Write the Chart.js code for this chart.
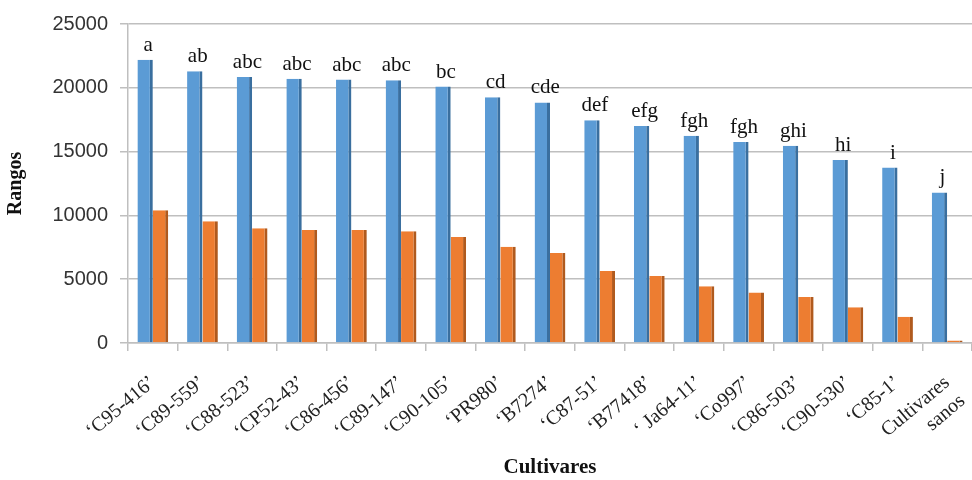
<!DOCTYPE html>
<html>
<head>
<meta charset="utf-8">
<script src="https://cdn.jsdelivr.net/npm/chart.js@4.4.1/dist/chart.umd.min.js"></script>
<style>
  html, body { margin: 0; padding: 0; background: #fff; }
  #wrap { width: 972px; height: 480px; }
</style>
</head>
<body>
<div id="wrap"><canvas id="chart"></canvas></div>
<script>
// cultivares (eje x)
const cultivares = [
  '‘C95-416’', '‘C89-559’', '‘C88-523’', '‘CP52-43’', '‘C86-456’', '‘C89-147’',
  '‘C90-105’', '‘PR980’', '‘B7274’', '‘C87-51’', '‘B77418’', '‘ Ja64-11’',
  '‘Co997’', '‘C86-503’', '‘C90-530’', '‘C85-1’', ['Cultivares', 'sanos']
];

// rangos, serie azul y serie naranja
const rangosAzul = [22200, 21300, 20850, 20700, 20650, 20600, 20100, 19250, 18850,
  17450, 17000, 16250, 15750, 15450, 14350, 13750, 11800];
const rangosNaranja = [10400, 9550, 9000, 8850, 8850, 8750, 8300, 7550, 7050,
  5650, 5250, 4450, 3950, 3600, 2800, 2050, 200];

// letras de significacion sobre las barras
const letras = ['a', 'ab', 'abc', 'abc', 'abc', 'abc', 'bc', 'cd', 'cde', 'def',
  'efg', 'fgh', 'fgh', 'ghi', 'hi', 'i', 'j'];

const yTicks = [0, 5000, 10000, 15000, 20000, 25000];

const serif = '"Liberation Serif", "DejaVu Serif", serif';
const sans = '"Liberation Sans", Arial, sans-serif';

// dibuja las letras encima de las barras azules
const letrasPlugin = {
  id: 'letras',
  afterDatasetsDraw(chart) {
    const { ctx } = chart;
    const meta = chart.getDatasetMeta(0);
    ctx.save();
    ctx.font = '21px ' + serif;
    ctx.fillStyle = '#111';
    ctx.textAlign = 'center';
    ctx.textBaseline = 'bottom';
    meta.data.forEach((bar, i) => {
      ctx.fillText(letras[i], bar.x + 3, bar.y - 4);
    });
    ctx.restore();
  }
};

new Chart(document.getElementById('chart'), {
  type: 'bar',
  data: {
    labels: cultivares,
    datasets: [{
      data: rangosAzul,
      backgroundColor: '#5b9bd5',
      borderColor: '#3a6f9f',
      borderWidth: { top: 0, right: 3, bottom: 0, left: 0 },
      borderSkipped: false,
      categoryPercentage: 0.62,
      barPercentage: 1.0
    }, {
      data: rangosNaranja,
      backgroundColor: '#ed7d31',
      borderColor: '#b05a1e',
      borderWidth: { top: 0, right: 3, bottom: 0, left: 0 },
      borderSkipped: false,
      categoryPercentage: 0.62,
      barPercentage: 1.0
    }]
  },
  options: {
    responsive: true,
    maintainAspectRatio: false,
    animation: false,
    layout: { padding: { top: 20, right: 0, left: 4, bottom: 0 } },
    plugins: {
      legend: { display: false },
      tooltip: { enabled: false }
    },
    scales: {
      x: {
        grid: {
          display: true,
          drawOnChartArea: false,
          offset: true,
          tickLength: 8,
          color: '#bfbfbf',
          lineWidth: 1.5
        },
        border: { color: '#bfbfbf', width: 1.5 },
        ticks: {
          color: '#222',
          font: { family: serif, size: 20 },
          minRotation: 40,
          maxRotation: 40,
          autoSkip: false,
          padding: 20
        },
        title: {
          display: true,
          text: 'Cultivares',
          color: '#111',
          font: { family: serif, size: 21, weight: 'bold' },
          padding: { top: 0, bottom: 0 }
        },
        afterFit(scale) {
          scale.height = 137;
          scale.paddingRight = 0;
        }
      },
      y: {
        min: 0,
        max: 25000,
        afterBuildTicks(scale) { scale.ticks = yTicks.map(v => ({ value: v })); },
        grid: {
          color: '#bfbfbf',
          lineWidth: 1.5,
          tickLength: 8
        },
        border: { color: '#bfbfbf', width: 1.5 },
        ticks: {
          color: '#333',
          font: { family: sans, size: 20 },
          padding: 12,
          callback: (v) => String(v)
        },
        title: {
          display: true,
          text: 'Rangos',
          color: '#111',
          font: { family: serif, size: 20, weight: 'bold' },
          padding: { top: 0, bottom: 2 }
        },
        afterFit(scale) { scale.width = 124; }
      }
    }
  },
  plugins: [letrasPlugin]
});
</script>
</body>
</html>
